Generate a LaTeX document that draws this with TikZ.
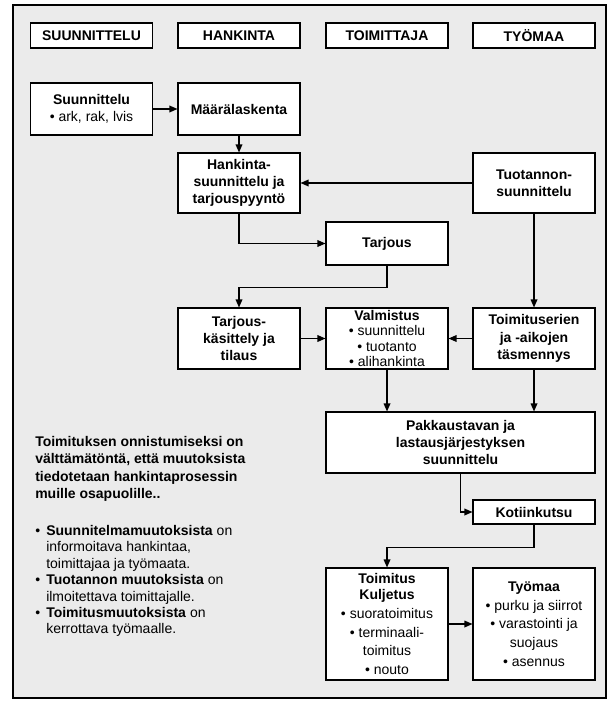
\documentclass[tikz,border=0pt]{standalone}
\usepackage{fontspec}
\setmainfont{Liberation Sans}
\usetikzlibrary{arrows.meta}
\definecolor{framegray}{RGB}{235,235,235}
\newcommand{\bxfont}{\fontsize{10.5}{13}\selectfont}

\begin{document}
\begin{tikzpicture}[x=0.75pt, y=-0.75pt,
	box/.style={draw, fill=white, line width=0.8pt, align=center, inner sep=0pt, minimum width=91.5pt, font=\bxfont},
	tbox/.style={box, font=\bxfont\bfseries},
	arr/.style={-{Triangle[length=6pt, width=5pt]}, line width=0.9pt}]
		\useasboundingbox (0, 0) rectangle (616, 709);
		\draw [fill=framegray, line width=1pt] (13, 5) rectangle (606, 698);

		% column heads
		\node [tbox, minimum height=18.75pt] (h1) at (91.5, 35.5) {SUUNNITTELU};
		\node [tbox, minimum height=18.75pt] (h2) at (239, 35.5) {HANKINTA};
		\node [tbox, minimum height=18.75pt] (h3) at (387, 35.5) {TOIMITTAJA};
		\node [tbox, minimum height=18.75pt] (h4) at (534, 35.5) {TYÖMAA};

		\node [box, minimum height=39pt] (suun) at (91.5, 109) {\textbf{Suunnittelu}\\• ark, rak, lvis};
		\node [tbox, minimum height=39pt] (maar) at (239, 109) {Määrälaskenta};
		\node [tbox, minimum height=45pt] (hsuun) at (239, 183) {Hankinta-\\suunnittelu ja\\tarjouspyyntö};
		\node [tbox, minimum height=45pt] (tuot) at (534, 183) {Tuotannon-\\suunnittelu};
		\node [tbox, minimum height=32.25pt] (tarj) at (387, 243.5) {Tarjous};
		\node [tbox, minimum height=45.75pt] (kas) at (239, 338.5) {Tarjous-\\käsittely ja\\tilaus};
		\node [box, minimum height=45.75pt, font=\fontsize{10.5}{11.3}\selectfont] (valm) at (387, 338.5) {\textbf{Valmistus}\\• suunnittelu\\• tuotanto\\• alihankinta};
		\node [tbox, minimum height=45.75pt] (toimer) at (534, 338.5) {Toimituserien\\ja -aikojen\\täsmennys};
		\node [tbox, minimum height=45.75pt, minimum width=201.75pt] (pakk) at (460.5, 442.5) {Pakkaustavan ja\\lastausjärjestyksen\\suunnittelu};
		\node [tbox, minimum height=18pt] (koti) at (534, 512) {Kotiinkutsu};
		\node [box, minimum height=84pt, font=\fontsize{10.5}{14}\selectfont] (toim) at (387, 624) {\textbf{Toimitus}\\[-2pt]\textbf{Kuljetus}\\• suoratoimitus\\• terminaali-\\toimitus\\• nouto};
		\node [box, minimum height=84pt, font=\fontsize{10.5}{14}\selectfont] (tyo) at (534, 624) {\textbf{Työmaa}\\• purku ja siirrot\\• varastointi ja\\suojaus\\• asennus};

		% note on the left
		\node [anchor=north west, align=left, inner sep=0pt, font=\bfseries\fontsize{10.5}{13}\selectfont] (note) at (35, 436) {Toimituksen onnistumiseksi on\\välttämätöntä, että muutoksista\\tiedotetaan hankintaprosessin\\muille osapuolille..};
		\node [anchor=north west, align=left, inner sep=0pt, font=\fontsize{10.5}{12.3}\selectfont] (list) at (35, 525) {\makebox[8.25pt][l]{•}\textbf{Suunnitelmamuutoksista} on\\\hspace*{8.25pt}informoitava hankintaa,\\\hspace*{8.25pt}toimittajaa ja työmaata.\\\makebox[8.25pt][l]{•}\textbf{Tuotannon muutoksista} on\\\hspace*{8.25pt}ilmoitettava toimittajalle.\\\makebox[8.25pt][l]{•}\textbf{Toimitusmuutoksista} on\\\hspace*{8.25pt}kerrottava työmaalle.};

		\draw [arr] (suun) to (maar);
		\draw [arr] (maar) to (hsuun);
		\draw [arr] (tuot) to (hsuun);
		\draw [arr] (hsuun.south) |- (tarj.west);
		\draw [arr] (tuot) to (toimer);
		\draw [arr] (tarj.south) -- ++(0, 22) -| (kas.north);
		\draw [arr] (kas) to (valm);
		\draw [arr] (toimer) to (valm);
		\draw [arr] (valm.south) to (valm.south |- pakk.north);
		\draw [arr] (toimer.south) to (toimer.south |- pakk.north);
		\draw [arr] (pakk.south) |- (koti.west);
		\draw [arr] (koti.south) -- ++(0, 23) -| (toim.north);
		\draw [arr] (toim) to (tyo);
\end{tikzpicture}
\end{document}
